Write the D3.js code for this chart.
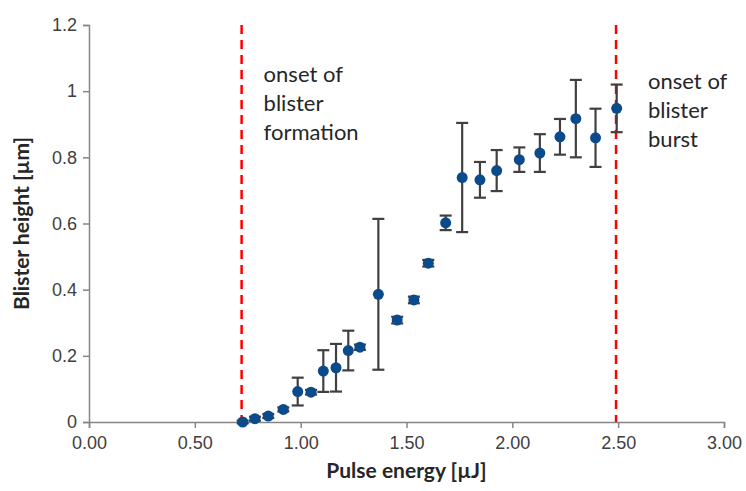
<!DOCTYPE html>
<html>
<head>
<meta charset="utf-8">
<script src="https://cdn.jsdelivr.net/npm/d3@7"></script>
<style>
  body { margin: 0; background: #fff; }
  svg { font-family: Lato, "Open Sans", sans-serif; }
</style>
</head>
<body>
<svg width="746" height="491"></svg>
<script>
// pulse energy (uJ), blister height (um), error (+/- um)
var energy = [0.726, 0.784, 0.847, 0.918, 0.986, 1.049, 1.107, 1.167, 1.225, 1.280, 1.367, 1.456,
              1.535, 1.603, 1.685, 1.763, 1.847, 1.926, 2.033, 2.130, 2.225, 2.300, 2.393, 2.493];
var height = [0.000, 0.010, 0.018, 0.038, 0.092, 0.090, 0.154, 0.164, 0.216, 0.226, 0.386, 0.308,
              0.369, 0.480, 0.602, 0.739, 0.732, 0.760, 0.793, 0.813, 0.862, 0.917, 0.859, 0.948];
var errs   = [0.004, 0.006, 0.006, 0.006, 0.042, 0.007, 0.063, 0.072, 0.060, 0.008, 0.228, 0.010,
              0.010, 0.010, 0.022, 0.165, 0.054, 0.062, 0.037, 0.057, 0.054, 0.117, 0.088, 0.072];
var onsets = [0.721, 2.49];
var onsetLabels = [["onset of", "blister", "formation"], ["onset of", "blister", "burst"]];
var xTicks = [0, 0.5, 1, 1.5, 2, 2.5, 3];
var yTicks = [0, 0.2, 0.4, 0.6, 0.8, 1, 1.2];

var svg = d3.select("svg"),
    margin = {top: 25, right: 22, bottom: 69, left: 89},
    width = +svg.attr("width") - margin.left - margin.right,
    h = +svg.attr("height") - margin.top - margin.bottom,
    g = svg.append("g").attr("transform", "translate(" + margin.left + "," + margin.top + ")");

var x = d3.scaleLinear().domain([0, 3]).range([0, width]);
var y = d3.scaleLinear().domain([0, 1.2]).range([h, 0]);

var data = energy.map(function(e, i) { return {x: e, y: height[i], e: errs[i]}; });

var xAxis = d3.axisBottom(x).tickValues(xTicks).tickSize(6).tickFormat(d3.format(".2f"));
var yAxis = d3.axisLeft(y).tickValues(yTicks).tickSize(6).tickFormat(function(d) { return d3.format("~g")(d); });

function styleAxis(sel) {
    sel.select(".domain").attr("stroke", "#868686").attr("stroke-width", 1.5);
    sel.selectAll(".tick line").attr("stroke", "#868686").attr("stroke-width", 1.5);
    sel.selectAll(".tick text").attr("fill", "#404040").style("font-size", "18px");
}

g.append("g").attr("transform", "translate(0," + h + ")").call(xAxis).call(styleAxis)
  .selectAll(".tick text").attr("dy", "1em");
g.append("g").call(yAxis).call(styleAxis)
  .selectAll(".tick text").attr("x", -12);

// onset lines
g.selectAll(".onset").data(onsets).enter().append("line")
  .attr("x1", function(d) { return x(d); }).attr("x2", function(d) { return x(d); })
  .attr("y1", y(1.2)).attr("y2", y(0))
  .attr("stroke", "#ff0000").attr("stroke-width", 2.5).attr("stroke-dasharray", "9,6");

// error bars
var eb = g.selectAll(".err").data(data).enter().append("g").attr("class", "err")
  .attr("stroke", "#404040").attr("stroke-width", 2.2);
eb.append("line")
  .attr("x1", function(d) { return x(d.x); }).attr("x2", function(d) { return x(d.x); })
  .attr("y1", function(d) { return y(d.y + d.e); }).attr("y2", function(d) { return y(d.y - d.e); });
eb.append("line")
  .attr("x1", function(d) { return x(d.x) - 6; }).attr("x2", function(d) { return x(d.x) + 6; })
  .attr("y1", function(d) { return y(d.y + d.e); }).attr("y2", function(d) { return y(d.y + d.e); });
eb.append("line")
  .attr("x1", function(d) { return x(d.x) - 6; }).attr("x2", function(d) { return x(d.x) + 6; })
  .attr("y1", function(d) { return y(d.y - d.e); }).attr("y2", function(d) { return y(d.y - d.e); });

// points
g.selectAll(".pt").data(data).enter().append("circle")
  .attr("cx", function(d) { return x(d.x); })
  .attr("cy", function(d) { return y(d.y); })
  .attr("r", 5.5).attr("fill", "#0b4a8b");

// annotations
var annX = [x(onsets[0]) + 22, x(onsets[1]) + 32];
var annY = [y(1.2) + 57, y(1.2) + 64];
onsetLabels.forEach(function(lines, i) {
    var t = g.append("text").attr("x", annX[i]).attr("y", annY[i])
      .attr("fill", "#262626").style("font-size", "22px");
    lines.forEach(function(s, j) {
        t.append("tspan").attr("x", annX[i]).attr("dy", j ? 29 : 0).text(s);
    });
});

// axis titles
svg.append("text").attr("x", margin.left + width / 2).attr("y", 478)
  .attr("text-anchor", "middle").attr("font-weight", "bold").attr("fill", "#262626")
  .style("font-size", "21px").text("Pulse energy [µJ]");
svg.append("text").attr("transform", "translate(29," + (margin.top + h / 2) + ") rotate(-90)")
  .attr("text-anchor", "middle").attr("font-weight", "bold").attr("fill", "#262626")
  .style("font-size", "21px").text("Blister height [µm]");
</script>
</body>
</html>
